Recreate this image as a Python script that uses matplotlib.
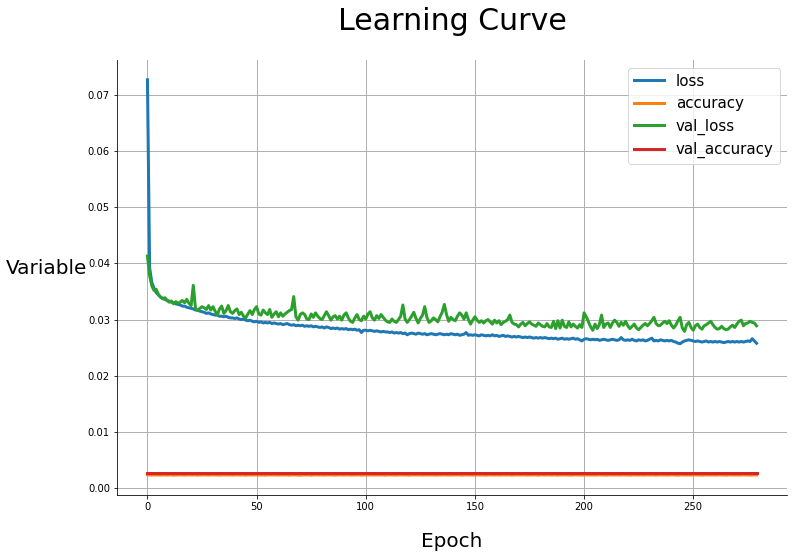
import numpy as np
import matplotlib
matplotlib.use("Agg")
import matplotlib.pyplot as plt

#================================
#   DATA
#================================
loss = [
    0.0727, 0.0392, 0.0366, 0.0356, 0.0348, 0.0344, 0.0340, 0.0338, 0.0336, 0.0334,
    0.0333, 0.0331, 0.0330, 0.0328, 0.0327, 0.0326, 0.0324, 0.0324, 0.0322, 0.0321,
    0.0320, 0.0319, 0.0317, 0.0317, 0.0315, 0.0314, 0.0313, 0.0311, 0.0312, 0.0310,
    0.0309, 0.0308, 0.0308, 0.0306, 0.0306, 0.0305, 0.0306, 0.0304, 0.0303, 0.0303,
    0.0302, 0.0303, 0.0301, 0.0300, 0.0301, 0.0299, 0.0298, 0.0299, 0.0297, 0.0296,
    0.0297, 0.0295, 0.0296, 0.0294, 0.0295, 0.0294, 0.0295, 0.0293, 0.0294, 0.0293,
    0.0292, 0.0293, 0.0291, 0.0292, 0.0293, 0.0291, 0.0290, 0.0291, 0.0289, 0.0290,
    0.0289, 0.0290, 0.0288, 0.0289, 0.0288, 0.0289, 0.0287, 0.0288, 0.0287, 0.0286,
    0.0287, 0.0285, 0.0287, 0.0286, 0.0284, 0.0285, 0.0284, 0.0285, 0.0283, 0.0284,
    0.0283, 0.0284, 0.0282, 0.0283, 0.0282, 0.0283, 0.0281, 0.0282, 0.0277, 0.0281,
    0.0281, 0.0280, 0.0281, 0.0280, 0.0279, 0.0280, 0.0279, 0.0278, 0.0279, 0.0278,
    0.0278, 0.0277, 0.0278, 0.0276, 0.0277, 0.0276, 0.0277, 0.0275, 0.0276, 0.0273,
    0.0275, 0.0276, 0.0275, 0.0274, 0.0276, 0.0275, 0.0274, 0.0275, 0.0273, 0.0274,
    0.0275, 0.0274, 0.0273, 0.0274, 0.0275, 0.0274, 0.0273, 0.0274, 0.0273, 0.0275,
    0.0274, 0.0273, 0.0274, 0.0272, 0.0273, 0.0274, 0.0277, 0.0272, 0.0273, 0.0272,
    0.0273, 0.0272, 0.0271, 0.0273, 0.0272, 0.0271, 0.0272, 0.0271, 0.0273, 0.0271,
    0.0272, 0.0270, 0.0271, 0.0272, 0.0270, 0.0271, 0.0270, 0.0269, 0.0270, 0.0269,
    0.0270, 0.0269, 0.0268, 0.0269, 0.0268, 0.0269, 0.0268, 0.0267, 0.0268, 0.0267,
    0.0268, 0.0267, 0.0268, 0.0267, 0.0266, 0.0267, 0.0266, 0.0267, 0.0265, 0.0266,
    0.0267, 0.0265, 0.0266, 0.0265, 0.0266, 0.0267, 0.0265, 0.0266, 0.0264, 0.0262,
    0.0265, 0.0266, 0.0265, 0.0264, 0.0265, 0.0264, 0.0265, 0.0263, 0.0264, 0.0265,
    0.0264, 0.0263, 0.0264, 0.0265, 0.0264, 0.0263, 0.0264, 0.0268, 0.0264, 0.0263,
    0.0264, 0.0263, 0.0265, 0.0263, 0.0262, 0.0264, 0.0263, 0.0264, 0.0262, 0.0263,
    0.0265, 0.0267, 0.0262, 0.0263, 0.0262, 0.0264, 0.0263, 0.0262, 0.0263, 0.0262,
    0.0263, 0.0261, 0.0260, 0.0258, 0.0257, 0.0260, 0.0262, 0.0263, 0.0264, 0.0263,
    0.0262, 0.0261, 0.0262, 0.0261, 0.0260, 0.0261, 0.0262, 0.0260, 0.0261, 0.0260,
    0.0261, 0.0260, 0.0261, 0.0260, 0.0259, 0.0260, 0.0261, 0.0260, 0.0261, 0.0260,
    0.0261, 0.0260, 0.0261, 0.0260, 0.0261, 0.0262, 0.0261, 0.0266, 0.0262, 0.0258,
]

val_loss = [
    0.0413, 0.0378, 0.0360, 0.0352, 0.0354, 0.0345, 0.0340, 0.0337, 0.0339, 0.0334,
    0.0331, 0.0333, 0.0328, 0.0332, 0.0329, 0.0331, 0.0334, 0.0330, 0.0336, 0.0329,
    0.0325, 0.0361, 0.0320, 0.0316, 0.0320, 0.0323, 0.0321, 0.0318, 0.0325, 0.0317,
    0.0323, 0.0315, 0.0308, 0.0319, 0.0324, 0.0311, 0.0316, 0.0325, 0.0314, 0.0311,
    0.0316, 0.0319, 0.0309, 0.0313, 0.0306, 0.0303, 0.0310, 0.0316, 0.0309, 0.0318,
    0.0323, 0.0310, 0.0308, 0.0317, 0.0312, 0.0309, 0.0318, 0.0304, 0.0310, 0.0314,
    0.0305, 0.0312, 0.0306, 0.0310, 0.0313, 0.0316, 0.0318, 0.0341, 0.0305, 0.0299,
    0.0309, 0.0312, 0.0309, 0.0301, 0.0300, 0.0310, 0.0304, 0.0312, 0.0306, 0.0302,
    0.0300, 0.0307, 0.0314, 0.0307, 0.0299, 0.0305, 0.0307, 0.0301, 0.0306, 0.0299,
    0.0308, 0.0312, 0.0303, 0.0297, 0.0295, 0.0303, 0.0309, 0.0300, 0.0298, 0.0306,
    0.0301, 0.0310, 0.0314, 0.0303, 0.0299, 0.0307, 0.0302, 0.0309, 0.0304, 0.0299,
    0.0296, 0.0295, 0.0301, 0.0297, 0.0295, 0.0300, 0.0306, 0.0326, 0.0301, 0.0295,
    0.0300, 0.0306, 0.0313, 0.0302, 0.0294, 0.0302, 0.0308, 0.0323, 0.0304, 0.0295,
    0.0298, 0.0303, 0.0300, 0.0296, 0.0305, 0.0313, 0.0327, 0.0309, 0.0297, 0.0304,
    0.0300, 0.0298, 0.0306, 0.0312, 0.0308, 0.0301, 0.0312, 0.0300, 0.0292, 0.0299,
    0.0305, 0.0299, 0.0295, 0.0298, 0.0294, 0.0298, 0.0300, 0.0296, 0.0292, 0.0299,
    0.0294, 0.0298, 0.0291, 0.0295, 0.0297, 0.0300, 0.0308, 0.0295, 0.0292, 0.0291,
    0.0287, 0.0292, 0.0295, 0.0289, 0.0293, 0.0296, 0.0292, 0.0290, 0.0288, 0.0294,
    0.0291, 0.0288, 0.0287, 0.0293, 0.0287, 0.0286, 0.0297, 0.0284, 0.0298, 0.0285,
    0.0299, 0.0288, 0.0286, 0.0296, 0.0287, 0.0292, 0.0288, 0.0285, 0.0291, 0.0286,
    0.0312, 0.0305, 0.0296, 0.0287, 0.0281, 0.0292, 0.0284, 0.0291, 0.0308, 0.0286,
    0.0292, 0.0294, 0.0286, 0.0294, 0.0299, 0.0295, 0.0288, 0.0295, 0.0290, 0.0297,
    0.0289, 0.0284, 0.0288, 0.0292, 0.0285, 0.0282, 0.0286, 0.0290, 0.0293, 0.0289,
    0.0293, 0.0298, 0.0304, 0.0293, 0.0289, 0.0290, 0.0294, 0.0297, 0.0293, 0.0298,
    0.0290, 0.0285, 0.0290, 0.0298, 0.0304, 0.0285, 0.0279, 0.0291, 0.0295, 0.0286,
    0.0281, 0.0289, 0.0292, 0.0286, 0.0283, 0.0289, 0.0291, 0.0294, 0.0297, 0.0291,
    0.0286, 0.0283, 0.0284, 0.0288, 0.0284, 0.0282, 0.0283, 0.0287, 0.0290, 0.0286,
    0.0292, 0.0297, 0.0299, 0.0289, 0.0293, 0.0294, 0.0297, 0.0295, 0.0294, 0.0289,
]

accuracy = [
    0.00238, 0.00234, 0.00232, 0.00235, 0.00233, 0.00234, 0.00230, 0.00235, 0.00234, 0.00232,
    0.00234, 0.00235, 0.00229, 0.00234, 0.00233, 0.00235, 0.00234, 0.00231, 0.00234, 0.00235,
    0.00233, 0.00234, 0.00235, 0.00230, 0.00234, 0.00233, 0.00235, 0.00234, 0.00232, 0.00234,
    0.00235, 0.00234, 0.00233, 0.00230, 0.00234, 0.00235, 0.00234, 0.00233, 0.00234, 0.00231,
    0.00234, 0.00235, 0.00233, 0.00234, 0.00234, 0.00230, 0.00234, 0.00235, 0.00233, 0.00234,
    0.00235, 0.00231, 0.00234, 0.00233, 0.00230, 0.00234, 0.00235, 0.00234, 0.00233, 0.00234,
    0.00232, 0.00234, 0.00235, 0.00233, 0.00234, 0.00230, 0.00234, 0.00235, 0.00234, 0.00232,
    0.00229, 0.00234, 0.00235, 0.00233, 0.00234, 0.00230, 0.00234, 0.00235, 0.00234, 0.00233,
    0.00234, 0.00231, 0.00234, 0.00235, 0.00233, 0.00234, 0.00230, 0.00234, 0.00235, 0.00234,
    0.00233, 0.00234, 0.00235, 0.00231, 0.00234, 0.00233, 0.00234, 0.00235, 0.00230, 0.00234,
    0.00234, 0.00233, 0.00235, 0.00234, 0.00232, 0.00234, 0.00235, 0.00233, 0.00234, 0.00230,
    0.00234, 0.00235, 0.00234, 0.00233, 0.00231, 0.00234, 0.00235, 0.00234, 0.00233, 0.00234,
    0.00230, 0.00234, 0.00235, 0.00233, 0.00234, 0.00234, 0.00231, 0.00235, 0.00234, 0.00233,
    0.00234, 0.00235, 0.00230, 0.00234, 0.00233, 0.00234, 0.00235, 0.00234, 0.00231, 0.00234,
    0.00233, 0.00235, 0.00234, 0.00234, 0.00230, 0.00234, 0.00235, 0.00233, 0.00234, 0.00232,
    0.00234, 0.00235, 0.00234, 0.00233, 0.00234, 0.00230, 0.00234, 0.00235, 0.00234, 0.00233,
    0.00234, 0.00231, 0.00234, 0.00235, 0.00233, 0.00234, 0.00234, 0.00230, 0.00234, 0.00235,
    0.00233, 0.00234, 0.00235, 0.00234, 0.00231, 0.00234, 0.00233, 0.00235, 0.00234, 0.00230,
    0.00234, 0.00235, 0.00233, 0.00234, 0.00234, 0.00232, 0.00234, 0.00235, 0.00230, 0.00234,
    0.00233, 0.00235, 0.00234, 0.00234, 0.00231, 0.00234, 0.00235, 0.00233, 0.00234, 0.00230,
    0.00234, 0.00235, 0.00234, 0.00233, 0.00234, 0.00231, 0.00234, 0.00235, 0.00233, 0.00234,
    0.00230, 0.00234, 0.00235, 0.00234, 0.00233, 0.00234, 0.00232, 0.00234, 0.00235, 0.00233,
    0.00234, 0.00230, 0.00234, 0.00235, 0.00234, 0.00233, 0.00234, 0.00231, 0.00234, 0.00235,
    0.00233, 0.00234, 0.00234, 0.00230, 0.00234, 0.00235, 0.00233, 0.00234, 0.00232, 0.00234,
    0.00235, 0.00234, 0.00233, 0.00230, 0.00234, 0.00235, 0.00234, 0.00233, 0.00234, 0.00231,
    0.00234, 0.00235, 0.00233, 0.00234, 0.00230, 0.00234, 0.00235, 0.00234, 0.00233, 0.00234,
    0.00232, 0.00234, 0.00235, 0.00233, 0.00234, 0.00230, 0.00234, 0.00235, 0.00234, 0.00233,
    0.00234, 0.00231, 0.00234, 0.00235, 0.00233, 0.00234, 0.00230, 0.00234, 0.00235, 0.00234,
]

val_accuracy = [0.00262] * 280

series_names = ["loss", "accuracy", "val_loss", "val_accuracy"]

#================================
#   FIGURE
#================================
W, H, DPI = 794, 558, 72
fig = plt.figure(figsize=(W / DPI, H / DPI), dpi=DPI)
ax = fig.add_axes([117 / W, 1 - 495 / H, (787 - 117) / W, (495 - 60) / H])

epochs = np.arange(len(loss))
for name, vals in zip(series_names, [loss, accuracy, val_loss, val_accuracy]):
    ax.plot(epochs, vals, lw=3, label=name)

ax.grid(True, color="#b0b0b0", lw=1)
ax.set_axisbelow(True)
ax.spines["top"].set_visible(False)
ax.spines["right"].set_visible(False)

ax.set_title("Learning Curve", fontsize=30, pad=30)
ax.set_xlabel("Epoch", fontsize=20, labelpad=20)
ax.set_ylabel("Variable", fontsize=20, rotation=0, labelpad=41)
ax.legend(loc="upper right", fontsize=15)

fig.savefig("out.png", dpi=DPI)
